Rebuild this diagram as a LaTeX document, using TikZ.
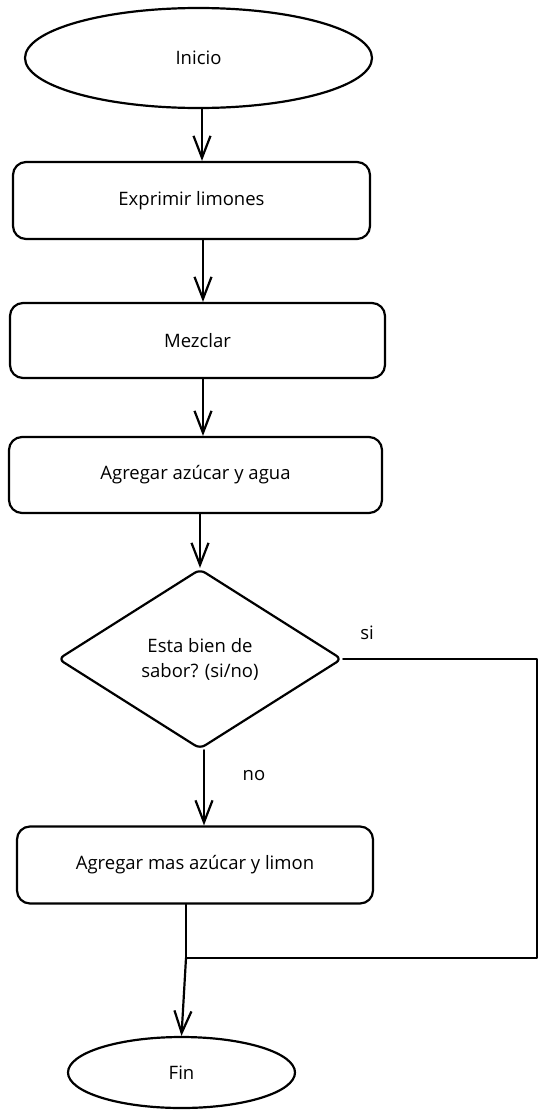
\documentclass[tikz,border=0pt]{standalone}
\usepackage{fontspec}
\setmainfont{Open Sans}
\usetikzlibrary{shapes.geometric,arrows.meta}
\begin{document}
\begin{tikzpicture}[x=1pt,y=-1pt,
  every node/.style={font=\fontsize{18.5}{25}\selectfont, text=black},
  line/.style={draw=black, line width=2.2pt, line cap=round, line join=round},
  arr/.style={line, -{Straight Barb[length=22pt,width=17pt,line width=2.2pt]}},
  proc/.style={line, rectangle, rounded corners=13pt, inner sep=0pt},
  term/.style={line, ellipse, inner sep=0pt},
  deci/.style={line, diamond, inner sep=0pt, align=center, rounded corners=6pt},
  lbl/.style={inner sep=0pt}]
\useasboundingbox (0,0) rectangle (548,1119);
\fill[white] (0,0) rectangle (548,1119);
\node[term, minimum width=347pt, minimum height=100pt] (ini) at (198.5,58) {Inicio};
\node[proc, minimum width=357pt, minimum height=77pt] (exp) at (191.5,200.5) {Exprimir limones};
\node[proc, minimum width=375pt, minimum height=75pt] (mez) at (197.5,340.5) {Mezclar};
\node[proc, minimum width=373pt, minimum height=76pt] (agr) at (195.5,475) {Agregar azúcar y agua};
\node[deci, minimum width=284pt, minimum height=180pt, aspect=1.58] (dec) at (200,659) {Esta bien de\\sabor? (si/no)};
\node[proc, minimum width=356pt, minimum height=77pt] (mas) at (195,865) {Agregar mas azúcar y limon};
\node[term, minimum width=227pt, minimum height=71pt] (fin) at (181.5,1072.5) {Fin};
\node[lbl] (si) at (367,633) {si};
\node[lbl] (no) at (254,776) {no};
\coordinate (c1) at (537,659);
\coordinate (c2) at (537,958);
\coordinate (j) at (186,958);
\draw[arr] (202,0 |- ini.south) -- (202,0 |- exp.north);
\draw[arr] (203,0 |- exp.south) -- (203,0 |- mez.north);
\draw[arr] (203,0 |- mez.south) -- (203,0 |- agr.north);
\draw[arr] (agr.south -| dec.north) -- (dec.north);
\draw[arr] (204,0 |- dec.south) -- (204,0 |- mas.north);
\draw[line] (dec.east) -- (c1) -- (c2) -- (j);
\draw[line] (mas.south -| j) -- (j);
\draw[arr] (j) -- (fin.north);
\end{tikzpicture}
\end{document}
